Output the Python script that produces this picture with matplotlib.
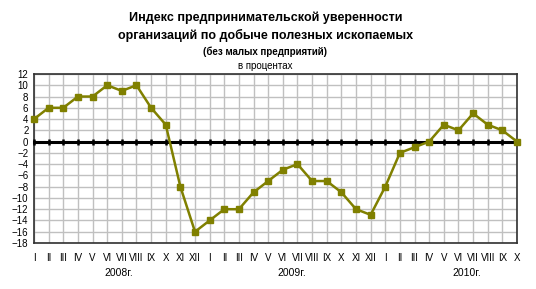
import numpy as np
import matplotlib.pyplot as plt

plt.rcParams['font.family'] = ['Liberation Sans', 'DejaVu Sans']

# monthly values, 2008-01 .. 2010-10
vals_2008 = [4, 6, 6, 8, 8, 10, 9, 10, 6, 3, -8, -16]
vals_2009 = [-14, -12, -12, -9, -7, -5, -4, -7, -7, -9, -12, -13]
vals_2010 = [-8, -2, -1, 0, 3, 2, 5, 3, 2, 0]

months = ['I', 'II', 'III', 'IV', 'V', 'VI', 'VII', 'VIII', 'IX', 'X', 'XI', 'XII']
years = ['2008г.', '2009г.', '2010г.']

values = vals_2008 + vals_2009 + vals_2010
labels = months + months + months[:len(vals_2010)]
x = np.arange(len(values))

olive = '#808000'

fig = plt.figure(figsize=(5.36, 2.89), dpi=100)
ax = fig.add_axes([34 / 536, 1 - 243 / 289, (517 - 34) / 536, (243 - 74) / 289])

ax.set_xlim(0, len(values) - 1)
ax.set_ylim(-18, 12)
ax.set_xticks(x)
ax.set_yticks(np.arange(-18, 13, 2))
ax.grid(True, color='#c0c0c0', linewidth=1)
ax.set_axisbelow(True)

# zero line with category tick marks
ax.plot(x, np.zeros(len(x)), color='black', linewidth=2.2, marker='|',
        markersize=5, markeredgewidth=1.8, zorder=3, clip_on=False)

ax.plot(x, values, color=olive, linewidth=1.8, marker='s', markersize=4.5,
        zorder=4, clip_on=False)

for s in ax.spines.values():
    s.set_color('#303030')
    s.set_linewidth(1.2)

ax.tick_params(axis='both', length=0, labelsize=7, pad=4)
ax.set_xticklabels(labels)
ax.tick_params(axis='x', pad=7)

# year labels under the month labels
year_pos = [5.8, 17.6, 29.6]
for xp, yr in zip(year_pos, years):
    ax.text(xp, -23.3, yr, ha='center', va='center', fontsize=7.5)

fig.text(0.495, 1 - 18 / 289, 'Индекс предпринимательской уверенности',
         ha='center', va='center', fontsize=9, fontweight='bold')
fig.text(0.495, 1 - 35 / 289, 'организаций по добыче полезных ископаемых',
         ha='center', va='center', fontsize=9, fontweight='bold')
fig.text(0.495, 1 - 52 / 289, '(без малых предприятий)',
         ha='center', va='center', fontsize=7, fontweight='bold')
fig.text(0.495, 1 - 66 / 289, 'в процентах',
         ha='center', va='center', fontsize=7)

fig.savefig('out.png', dpi=100)
